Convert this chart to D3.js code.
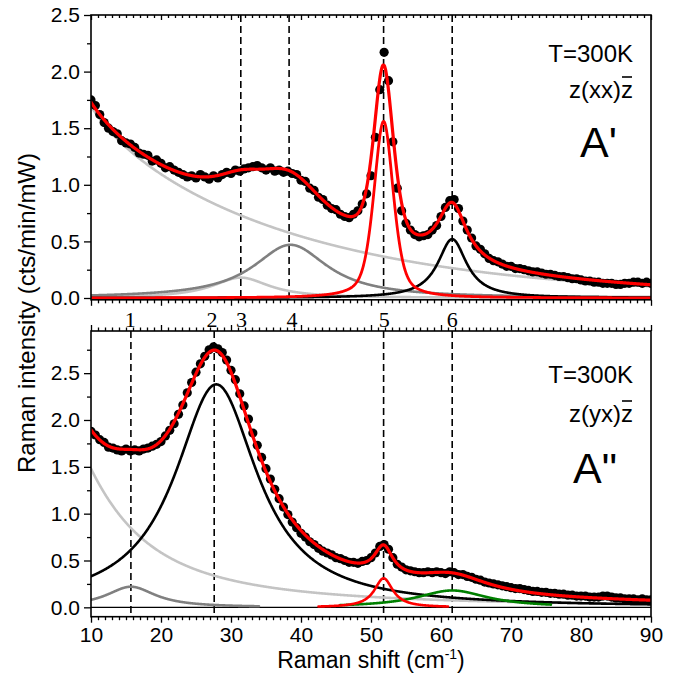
<!DOCTYPE html>
<html><head><meta charset="utf-8">
<script src="https://cdn.jsdelivr.net/npm/d3@7"></script>
<style>
html,body{margin:0;padding:0;background:#fff;}
svg text{font-family:Arial,"Liberation Sans",Helvetica,sans-serif;fill:#000;}
</style></head>
<body><svg id="chart" width="677" height="677"></svg>
<script>
// ---------------- DATA ----------------
const xTicks = [10,20,30,40,50,60,70,80,90];
const yTicksTop = [0,0.5,1.0,1.5,2.0,2.5];
const yTicksBot = [0,0.5,1.0,1.5,2.0,2.5];
const dotStart = 10, dotStep = 0.625;

// measured points, upper panel (A', z(xx)z-bar)
const topDots = [1.75,1.70,1.62,1.55,1.50,1.47,1.45,1.39,1.37,1.36,1.33,1.28,1.27,1.26,1.21,1.22,1.19,1.15,1.16,1.13,
 1.11,1.09,1.07,1.08,1.06,1.09,1.07,1.05,1.08,1.06,1.09,1.11,1.10,1.13,1.12,1.14,1.15,1.16,1.17,1.15,
 1.13,1.15,1.12,1.13,1.11,1.12,1.10,1.09,1.04,1.03,0.97,0.95,0.89,0.87,0.82,0.79,0.78,0.74,0.72,0.71,
 0.74,0.77,0.83,0.92,1.08,1.42,1.84,2.17,1.92,1.38,0.97,0.77,0.66,0.60,0.56,0.54,0.55,0.56,0.60,0.64,
 0.72,0.80,0.86,0.87,0.79,0.68,0.60,0.53,0.46,0.43,0.39,0.35,0.33,0.32,0.30,0.28,0.28,0.26,0.26,0.25,
 0.24,0.23,0.23,0.22,0.21,0.21,0.20,0.19,0.19,0.18,0.17,0.17,0.16,0.15,0.15,0.14,0.14,0.13,0.13,0.13,
 0.12,0.12,0.13,0.13,0.14,0.14,0.13,0.14,0.13];
// measured points, lower panel (A'', z(yx)z-bar)
const botDots = [1.88,1.84,1.79,1.76,1.71,1.70,1.68,1.67,1.69,1.67,1.68,1.67,1.69,1.70,1.72,1.74,1.77,1.83,1.89,1.96,
 2.06,2.16,2.29,2.40,2.51,2.60,2.68,2.75,2.78,2.76,2.72,2.64,2.53,2.43,2.28,2.15,2.01,1.86,1.73,1.60,
 1.48,1.37,1.26,1.16,1.07,0.99,0.91,0.85,0.79,0.75,0.70,0.67,0.63,0.60,0.58,0.56,0.53,0.52,0.50,0.48,
 0.48,0.47,0.49,0.50,0.53,0.58,0.65,0.67,0.62,0.53,0.46,0.43,0.40,0.39,0.38,0.37,0.37,0.38,0.37,0.38,
 0.37,0.36,0.38,0.37,0.35,0.35,0.33,0.32,0.30,0.29,0.27,0.26,0.25,0.24,0.23,0.22,0.21,0.20,0.20,0.19,
 0.18,0.17,0.17,0.16,0.16,0.15,0.15,0.14,0.14,0.13,0.13,0.12,0.12,0.12,0.11,0.11,0.11,0.12,0.12,0.11,
 0.10,0.10,0.09,0.09,0.09,0.08,0.09,0.08,0.08];

// fitted components, upper panel: modes 3,4,5,6
const topPeakCenters = [31.4, 38.5, 51.8, 61.6];
const topPeakAmps    = [0.18, 0.47, 1.56, 0.52];
const topPeakHWHM    = [5.0, 6.5, 1.65, 2.5];
const topPeakGauss   = [0, 0, 0.5, 0];
const topBgParams    = [6.8, 2.0, 2.0, 30];   // Rayleigh wing: lorentz amp, width, exp amp, decay
// fitted components, lower panel: modes 1,2,5,6
const botPeakCenters = [15.7, 27.9, 51.8, 61.6];
const botPeakAmps    = [0.22, 2.38, 0.31, 0.18];
const botPeakHWHM    = [4.3, 7.2, 1.6, 6.2];
const botPeakFrom    = [10, 10, 42.5, 45.6];
const botPeakTo      = [34, 90, 61, 75.7];
const botBgParams    = [3.02, 9.8];

// mode markers
const topModeLines = [31.4, 38.3, 51.8, 61.6];
const botModeLines = [15.7, 27.6, 51.8, 61.6];
const modeLabels   = ["1","2","3","4","5","6"];
const modeLabelX   = [15.6, 27.3, 31.5, 38.7, 51.9, 61.6];

// ---------------- DRAW ----------------
const svg = d3.select("#chart");
const x  = d3.scaleLinear().domain([10,90]).range([91,651]);
const yT = d3.scaleLinear().domain([0,2.5]).range([298,15]);
const yB = d3.scaleLinear().domain([-0.1,2.95]).range([616.7,331]);
const topBottomVal = -0.016;

function lor(v,c,a,w){const d=(v-c)/w;return a/(1+d*d);}
function pv(v,c,a,w,g){const d=v-c;const L=1/(1+(d/w)*(d/w));const s=w/Math.sqrt(2*Math.LN2);
  const G=Math.exp(-d*d/(2*s*s));return a*((1-g)*L+g*G);}
const topBg = v => lor(v,0,topBgParams[0],topBgParams[1]) + topBgParams[2]*Math.exp(-v/topBgParams[3]);
const topPeak = (i,v) => pv(v,topPeakCenters[i],topPeakAmps[i],topPeakHWHM[i],topPeakGauss[i]);
const topFit = v => topBg(v) + d3.sum(topPeakCenters,(c,i)=>topPeak(i,v));
const botBg = v => lor(v,0,botBgParams[0],botBgParams[1]);
const botPeak = (i,v) => lor(v,botPeakCenters[i],botPeakAmps[i],botPeakHWHM[i]);
const botFit = v => botBg(v) + d3.sum(botPeakCenters,(c,i)=>botPeak(i,v));

const grid = (a,b)=>d3.range(a,b+1e-9,0.05);

const defs = svg.append("defs");
defs.append("clipPath").attr("id","clipT").append("rect")
  .attr("x",x(10)).attr("y",yT(2.5)).attr("width",x(90)-x(10)).attr("height",yT(topBottomVal)-yT(2.5));
defs.append("clipPath").attr("id","clipB").append("rect")
  .attr("x",x(10)).attr("y",yB(2.95)).attr("width",x(90)-x(10)).attr("height",yB(-0.1)-yB(2.95));

function panel(clip, y, modeLines, top, bottom){
  const g = svg.append("g").attr("clip-path",`url(#${clip})`);
  g.selectAll("line.mode").data(modeLines).join("line").attr("class","mode")
    .attr("x1",d=>x(d)).attr("x2",d=>x(d)).attr("y1",top).attr("y2",bottom)
    .attr("stroke","#000").attr("stroke-width",1.6).attr("stroke-dasharray","7,4");
  return g;
}
function curve(g,y,fn,a,b,color,w){
  const line = d3.line().x(d=>x(d)).y(d=>y(fn(d)));
  g.append("path").attr("d",line(grid(a,b))).attr("fill","none").attr("stroke",color)
   .attr("stroke-width",w).attr("stroke-linejoin","round").attr("stroke-linecap","round");
}
function dots(g,y,vals){
  g.selectAll("circle").data(vals).join("circle")
   .attr("cx",(d,i)=>x(dotStart+i*dotStep)).attr("cy",d=>y(d)).attr("r",4.6).attr("fill","#000");
}

// ---- top panel ----
const gT = panel("clipT", yT, topModeLines, yT(2.5), yT(topBottomVal));
const topColors = ["#c4c4c4","#808080","#ff0000","#000000"];
curve(gT,yT,topBg,10,90,"#c4c4c4",2.6);
[0,1,3].forEach(i=>curve(gT,yT,v=>topPeak(i,v),10,90,topColors[i],2.6));
dots(gT,yT,topDots);
curve(gT,yT,v=>topPeak(2,v),10,90,"#ff0000",2.8);
curve(gT,yT,topFit,10,90,"#ff0000",3.2);

// ---- bottom panel ----
const gB = panel("clipB", yB, botModeLines, yB(2.95), yB(-0.1));
gB.append("line").attr("x1",x(10)).attr("x2",x(90)).attr("y1",yB(0)).attr("y2",yB(0))
  .attr("stroke","#000").attr("stroke-width",1.3);
const botColors = ["#808080","#000000","#ff0000","#008000"];
curve(gB,yB,botBg,10,90,"#c4c4c4",2.6);
[0,1,3,2].forEach(i=>curve(gB,yB,v=>botPeak(i,v),botPeakFrom[i],botPeakTo[i],botColors[i],2.6));
dots(gB,yB,botDots);
curve(gB,yB,botFit,10,90,"#ff0000",3.2);

// ---- frames ----
svg.append("rect").attr("x",x(10)).attr("y",yT(2.5)).attr("width",x(90)-x(10))
  .attr("height",yT(topBottomVal)-yT(2.5)).attr("fill","none").attr("stroke","#000").attr("stroke-width",1.6);
svg.append("rect").attr("x",x(10)).attr("y",yB(2.95)).attr("width",x(90)-x(10))
  .attr("height",yB(-0.1)-yB(2.95)).attr("fill","none").attr("stroke","#000").attr("stroke-width",1.6);

// ---- axes ----
const minorX = d3.range(10,91,1).filter(v=>v%10!==0);
function styleAxis(g,fs){
  g.select(".domain").remove();
  g.selectAll(".tick line").attr("stroke","#000").attr("stroke-width",1.3);
  g.selectAll("text").attr("font-size",fs).attr("font-family","Arial, 'Liberation Sans', sans-serif").attr("fill","#000");
  return g;
}
function xAxisPair(yPos, orient, sizeMaj, sizeMin, labels){
  const maj = orient(x).tickValues(xTicks).tickSize(sizeMaj).tickPadding(4)
    .tickFormat(labels ? d3.format("d") : "");
  styleAxis(svg.append("g").attr("transform",`translate(0,${yPos})`).call(maj),21);
  const mn = orient(x).tickValues(minorX).tickSize(sizeMin).tickFormat("");
  styleAxis(svg.append("g").attr("transform",`translate(0,${yPos})`).call(mn),21);
}
xAxisPair(yT(2.5), d3.axisBottom, 5, 3, false);          // inward ticks on top border
xAxisPair(yT(topBottomVal), d3.axisBottom, 6, 3.5, false);
xAxisPair(yB(2.95), d3.axisTop, 6, 3.5, false);
xAxisPair(yB(-0.1), d3.axisBottom, 6, 3.5, true);

function yAxisPair(y, ticks, minor){
  styleAxis(svg.append("g").attr("transform",`translate(${x(10)},0)`)
    .call(d3.axisLeft(y).tickValues(ticks).tickSize(7).tickPadding(4).tickFormat(d3.format(".1f"))),21);
  styleAxis(svg.append("g").attr("transform",`translate(${x(10)},0)`)
    .call(d3.axisLeft(y).tickValues(minor).tickSize(4).tickFormat("")),21);
}
yAxisPair(yT, yTicksTop, [0.25,0.75,1.25,1.75,2.25]);
yAxisPair(yB, yTicksBot, [0.25,0.75,1.25,1.75,2.25,2.75]);

// ---- mode labels between panels ----
svg.selectAll("text.mode").data(modeLabels).join("text").attr("class","mode")
  .attr("x",(d,i)=>x(modeLabelX[i])).attr("y",327).attr("text-anchor","middle")
  .attr("font-size",22).style("font-family","'Liberation Serif','Times New Roman',serif").text(d=>d);

// ---- titles ----
const xt = svg.append("text").attr("x",371).attr("y",668).attr("text-anchor","middle").attr("font-size",23);
xt.append("tspan").text("Raman shift (cm");
xt.append("tspan").attr("font-size",14).attr("dy",-9).text("-1");
xt.append("tspan").attr("dy",9).text(")");
svg.append("text").attr("transform","translate(35,313) rotate(-90)").attr("text-anchor","middle")
  .attr("font-size",24).text("Raman intensity (cts/min/mW)");

// ---- annotations ----
function annot(y1, geom, y2, label, y3){
  svg.append("text").attr("x",633).attr("y",y1).attr("text-anchor","end").attr("font-size",24).text("T=300K");
  const t = svg.append("text").attr("x",633).attr("y",y2).attr("text-anchor","end").attr("font-size",24).text(geom);
  const n = t.node(); const k = geom.length-1;
  const s = n.getStartPositionOfChar(k).x, e = n.getEndPositionOfChar(k).x;
  svg.append("line").attr("x1",s+1).attr("x2",e-1).attr("y1",y2-21).attr("y2",y2-21)
    .attr("stroke","#000").attr("stroke-width",1.6);
  svg.append("text").attr("x",617).attr("y",y3).attr("text-anchor","end").attr("font-size",43).text(label);
}
annot(62, "z(xx)z", 98, "A'", 157);
annot(383, "z(yx)z", 422, "A\"", 483);
</script>
</body></html>
